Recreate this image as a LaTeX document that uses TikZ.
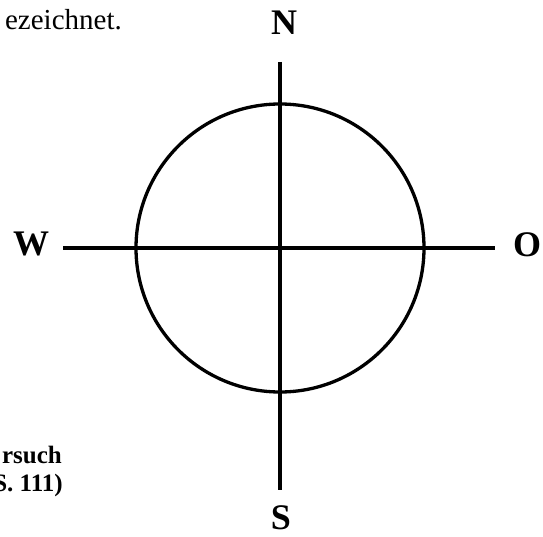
\documentclass[tikz,border=0pt]{standalone}
\usepackage{fontspec}
\setmainfont{Liberation Serif}
\begin{document}
\begin{tikzpicture}[x=1pt,y=-1pt,
  axis/.style={line width=3.3pt},
  ring/.style={line width=3.3pt},
  dirlabel/.style={font=\bfseries\fontsize{36}{43}\selectfont,inner sep=0pt,anchor=base},
  bodytext/.style={font=\fontsize{29}{34}\selectfont,inner sep=0pt,anchor=base east},
  captext/.style={font=\bfseries\fontsize{25}{28}\selectfont,inner sep=0pt,anchor=base east}]
\useasboundingbox (0,0) rectangle (543,537);
\coordinate (c) at (280,248);
\coordinate (ntop) at (280,62);
\coordinate (sbot) at (280,490);
\coordinate (wend) at (63,248);
\coordinate (oend) at (495,248);
\draw[ring] (c) circle[radius=144];
\draw[axis] (ntop) -- (sbot);
\draw[axis] (wend) -- (oend);
\node[dirlabel] (N) at (284,35) {N};
\node[dirlabel] (W) at (31,255) {W};
\node[dirlabel] (O) at (527,256) {O};
\node[dirlabel] (S) at (281,529) {S};
\node[bodytext] (t1) at (122,30) {ezeichnet.};
\node[captext] (t2) at (62,463) {rsuch};
\node[captext] (t3) at (63,491) {S. 111)};
\end{tikzpicture}
\end{document}
